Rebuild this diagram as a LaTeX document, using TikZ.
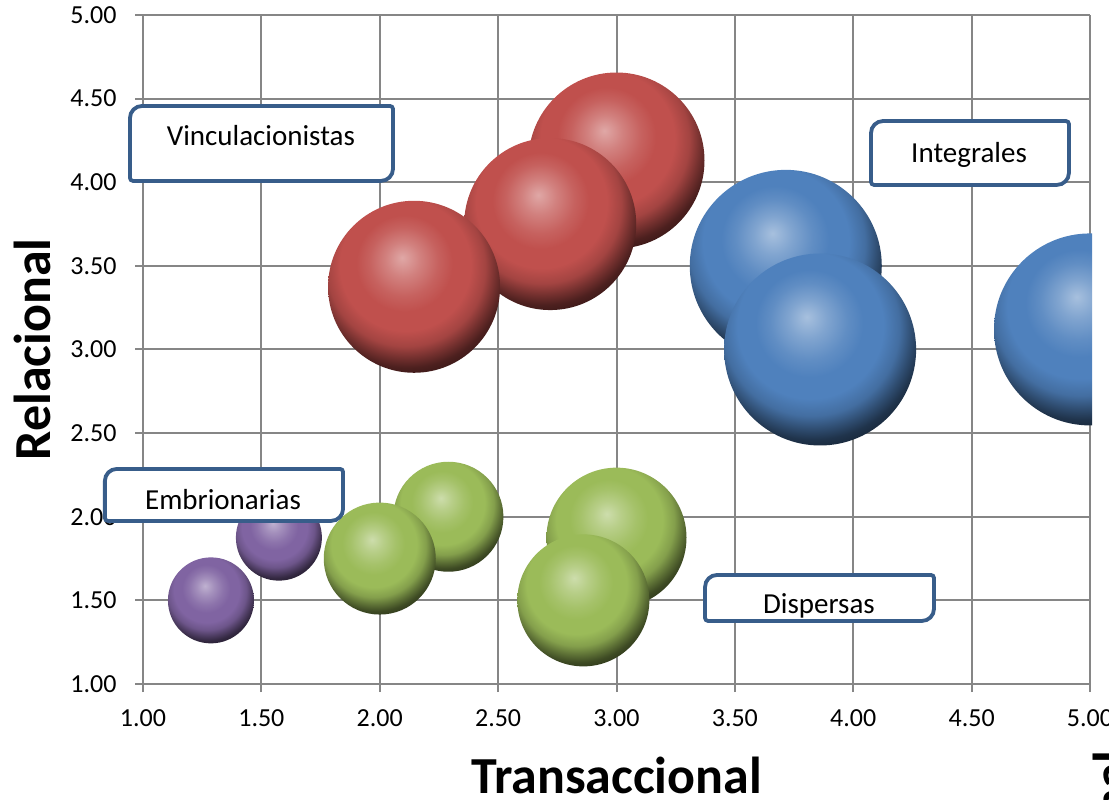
\documentclass[tikz,border=0pt]{standalone}
\usepackage{fontspec}
\setmainfont{Carlito}

\definecolor{gridgray}{RGB}{134,134,134}
\definecolor{boxblue}{RGB}{56,93,138}
\definecolor{redbub}{RGB}{192,80,77}
\definecolor{bluebub}{RGB}{79,129,189}
\definecolor{greenbub}{RGB}{155,187,89}
\definecolor{purplebub}{RGB}{128,100,162}

\pgfdeclareradialshading{redsphere}{\pgfpoint{-3.5bp}{8.5bp}}{%
  color(0bp)=(redbub!50!white); color(5bp)=(redbub!72!white); color(10bp)=(redbub!90!white);
  color(14bp)=(redbub); color(19bp)=(redbub); color(23bp)=(redbub!85!black); color(26bp)=(redbub!60!black);
  color(28.5bp)=(redbub!40!black); color(31bp)=(redbub!30!black); color(70bp)=(redbub!30!black)}
\pgfdeclareradialshading{bluesphere}{\pgfpoint{-3.5bp}{8.5bp}}{%
  color(0bp)=(bluebub!50!white); color(5bp)=(bluebub!72!white); color(10bp)=(bluebub!90!white);
  color(14bp)=(bluebub); color(19bp)=(bluebub); color(23bp)=(bluebub!85!black); color(26bp)=(bluebub!60!black);
  color(28.5bp)=(bluebub!40!black); color(31bp)=(bluebub!30!black); color(70bp)=(bluebub!30!black)}
\pgfdeclareradialshading{greensphere}{\pgfpoint{-3.5bp}{8.5bp}}{%
  color(0bp)=(greenbub!50!white); color(5bp)=(greenbub!72!white); color(10bp)=(greenbub!90!white);
  color(14bp)=(greenbub); color(19bp)=(greenbub); color(23bp)=(greenbub!85!black); color(26bp)=(greenbub!60!black);
  color(28.5bp)=(greenbub!40!black); color(31bp)=(greenbub!30!black); color(70bp)=(greenbub!30!black)}
\pgfdeclareradialshading{purplesphere}{\pgfpoint{-3.5bp}{8.5bp}}{%
  color(0bp)=(purplebub!50!white); color(5bp)=(purplebub!72!white); color(10bp)=(purplebub!90!white);
  color(14bp)=(purplebub); color(19bp)=(purplebub); color(23bp)=(purplebub!85!black); color(26bp)=(purplebub!60!black);
  color(28.5bp)=(purplebub!40!black); color(31bp)=(purplebub!30!black); color(70bp)=(purplebub!30!black)}

\tikzset{
  gridline/.style={draw=gridgray, line width=1pt},
  ticklabel/.style={inner sep=0pt, font=\fontsize{13}{15}\selectfont},
  boxlabel/.style={inner sep=0pt, anchor=base, font=\fontsize{14.5}{17}\selectfont},
  axistitle/.style={inner sep=0pt, font=\fontsize{26}{30}\selectfont\bfseries},
  bubble/.style={circle, inner sep=0pt, shade, shading=#1}
}

% box with two big and two small rounded corners: x0, y0, x1, y1
\newcommand{\cornerbox}[4]{%
  \draw[draw=boxblue, line width=1.9pt, fill=white]
    ([yshift=-6pt]#1,#4) arc[start angle=180, end angle=90, radius=6pt]
    -- ([xshift=-1.5pt]#3,#4) arc[start angle=90, end angle=0, radius=1.5pt]
    -- ([yshift=6pt]#3,#2) arc[start angle=0, end angle=-90, radius=6pt]
    -- ([xshift=1.5pt]#1,#2) arc[start angle=270, end angle=180, radius=1.5pt]
    -- cycle;}

\begin{document}
\begin{tikzpicture}[x=118.375pt, y=83.625pt]
    \useasboundingbox (0.396,0.3124) rectangle (5.0803,5.0897);
    \clip (0.396,0.3124) rectangle (5.0803,5.0897);

    % grid and ticks
    \draw[gridline, step=0.5] (1,1) grid (5,5);
    \draw[gridline, step=0.5] ([xshift=-4pt]1,1) grid (1,5);
    \draw[gridline, step=0.5] ([yshift=-4pt]1,1) grid (5,1);

        \node[ticklabel, anchor=east] (y100) at (0.89,1.0) {1.00};
        \node[ticklabel, anchor=east] (y150) at (0.89,1.5) {1.50};
        \node[ticklabel, anchor=east] (y200) at (0.89,2.0) {2.00};
        \node[ticklabel, anchor=east] (y250) at (0.89,2.5) {2.50};
        \node[ticklabel, anchor=east] (y300) at (0.89,3.0) {3.00};
        \node[ticklabel, anchor=east] (y350) at (0.89,3.5) {3.50};
        \node[ticklabel, anchor=east] (y400) at (0.89,4.0) {4.00};
        \node[ticklabel, anchor=east] (y450) at (0.89,4.5) {4.50};
        \node[ticklabel, anchor=east] (y500) at (0.89,5.0) {5.00};

        \node[ticklabel, anchor=base] (x100) at (1.0,0.743) {1.00};
        \node[ticklabel, anchor=base] (x150) at (1.5,0.743) {1.50};
        \node[ticklabel, anchor=base] (x200) at (2.0,0.743) {2.00};
        \node[ticklabel, anchor=base] (x250) at (2.5,0.743) {2.50};
        \node[ticklabel, anchor=base] (x300) at (3.0,0.743) {3.00};
        \node[ticklabel, anchor=base] (x350) at (3.5,0.743) {3.50};
        \node[ticklabel, anchor=base] (x400) at (4.0,0.743) {4.00};
        \node[ticklabel, anchor=base] (x450) at (4.5,0.743) {4.50};
        \node[ticklabel, anchor=base] (x500) at (5.0,0.743) {5.00};

    % bubbles
    \begin{scope}
        \clip (1,1) rectangle ([xshift=1pt]5,5);
        \node[bubble=redsphere, minimum size=88pt] (red1) at (3.00,4.13) {};
        \node[bubble=redsphere, minimum size=86pt] (red2) at (2.72,3.75) {};
        \node[bubble=redsphere, minimum size=86pt] (red3) at (2.145,3.375) {};
        \node[bubble=bluesphere, minimum size=96pt] (blue1) at (3.715,3.50) {};
        \node[bubble=bluesphere, minimum size=96pt] (blue2) at (3.86,3.00) {};
        \node[bubble=bluesphere, minimum size=96pt] (blue3) at (5.00,3.12) {};
        \node[bubble=greensphere, minimum size=55pt] (green1) at (2.29,2.00) {};
        \node[bubble=greensphere, minimum size=56pt] (green2) at (2.00,1.75) {};
        \node[bubble=greensphere, minimum size=70pt] (green3) at (3.00,1.875) {};
        \node[bubble=greensphere, minimum size=66pt] (green4) at (2.86,1.50) {};
        \node[bubble=purplesphere, minimum size=43pt] (purple1) at (1.287,1.50) {};
        \node[bubble=purplesphere, minimum size=43pt] (purple2) at (1.574,1.875) {};
    \end{scope}

    % group boxes
    \cornerbox{0.945}{4.008}{2.056}{4.456}
    \node[boxlabel] (vinc) at (1.498,4.217) {Vinculacionistas};
    \cornerbox{4.075}{3.984}{4.911}{4.366}
    \node[boxlabel] (integ) at (4.489,4.121) {Integrales};
    \cornerbox{0.839}{1.975}{1.845}{2.286}
    \node[boxlabel] (embr) at (1.338,2.046) {Embrionarias};
    \cornerbox{3.374}{1.377}{4.341}{1.652}
    \node[boxlabel] (disp) at (3.855,1.419) {Dispersas};

    % axis titles
    \node[axistitle, anchor=base] (xtitle) at (3.0,0.348) {Transaccional};
    \node[axistitle, rotate=90, anchor=base] (ytitle) at (0.611,3.0) {Relacional};
    \node[axistitle, rotate=90, anchor=base east] (ytitle2) at (5.165,0.605) {nal};
\end{tikzpicture}
\end{document}
